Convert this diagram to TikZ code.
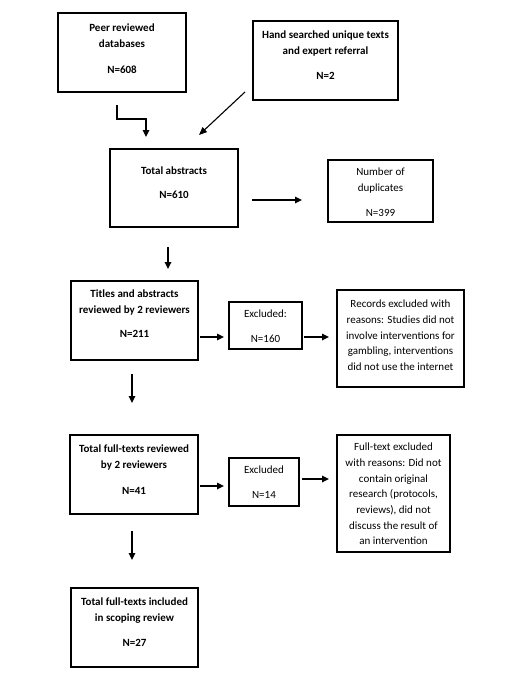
\documentclass[tikz,border=0pt]{standalone}
\usepackage{fontspec}
\setmainfont{Carlito}
\usetikzlibrary{arrows.meta,calc}
\newcommand\boxbody[4]{\parbox[t][#2][t]{#1}{\centering\fontsize{11}{15.7}\selectfont\vspace*{#3}#4}}
\tikzset{
  box/.style={draw=black, line width=1.9pt, inner sep=0pt, outer sep=0pt},
  arr/.style={line width=1.6pt, -{Triangle[length=7pt,width=6.5pt]}},
  arrthin/.style={line width=1.1pt, -{Triangle[length=8pt,width=6.5pt]}},
}
\begin{document}
\begin{tikzpicture}[x=1pt,y=-1pt]
\useasboundingbox (0,0) rectangle (521,677);
\fill[white] (0,0) rectangle (521,677);
% boxes
\node[box] (peer) at (122,52.5) {\boxbody{128pt}{79pt}{11pt}{\bfseries Peer reviewed\\databases\\[10pt]N=608}};
\node[box] (hand) at (325.5,60.5) {\boxbody{145pt}{79pt}{10pt}{\bfseries Hand searched unique texts\\and expert referral\\[9.5pt]N=2}};
\node[box] (tot) at (174,188) {\boxbody{128pt}{78pt}{18pt}{\bfseries Total abstracts\\[8.5pt]N=610}};
\node[box] (dup) at (380.5,191) {\boxbody{105pt}{62pt}{8pt}{Number of\\duplicates\\[9.5pt]N=399}};
\node[box] (ttl) at (134.5,320.5) {\boxbody{127pt}{79pt}{9pt}{\bfseries Titles and abstracts\\reviewed by 2 reviewers\\[8.5pt]N=211}};
\node[box] (exa) at (265.5,325.5) {\boxbody{73pt}{47pt}{8pt}{Excluded:\\[9.5pt]N=160}};
\node[box] (rec) at (400.5,338.5) {\boxbody{127pt}{97pt}{10pt}{Records excluded with\\reasons: Studies did not\\involve interventions for\\gambling, interventions\\did not use the internet}};
\node[box] (ftr) at (134,474.5) {\boxbody{128pt}{79pt}{10pt}{\bfseries Total full-texts reviewed\\by 2 reviewers\\[10pt]N=41}};
\node[box] (exb) at (264,482) {\boxbody{70pt}{48pt}{8pt}{Excluded\\[9.5pt]N=14}};
\node[box] (fte) at (393.5,493.5) {\boxbody{113pt}{117pt}{8pt}{Full-text excluded\\with reasons: Did not\\contain original\\research (protocols,\\reviews), did not\\discuss the result of\\an intervention}};
\node[box] (inc) at (134.5,627.5) {\boxbody{127pt}{79pt}{10pt}{\bfseries Total full-texts included\\in scoping review\\[9.5pt]N=27}};
% connectors
\coordinate (e1) at (117,105);
\coordinate (e2) at (146,119);
\draw[arr, shorten >=12pt] (e1) |- (e2) -- (e2 |- tot.north);
\coordinate (d1) at (245,92);
\coordinate (d2) at (199,135);
\draw[arrthin] (d1) -- (d2);
\coordinate (h1) at (252,200);
\draw[arr, shorten >=26pt] (h1) -- (h1 -| dup.west);
\coordinate (v1) at (168,247);
\draw[arr, shorten >=12pt] (v1) -- (v1 |- ttl.north);
\coordinate (h2) at (200,337);
\draw[arr, shorten >=5pt] (h2) -- (h2 -| exa.west);
\coordinate (h3) at (304,337);
\draw[arr, shorten >=8pt] (h3) -- (h3 -| rec.west);
\coordinate (v2) at (132,374);
\draw[arr, shorten >=32pt] (v2) -- (v2 |- ftr.north);
\coordinate (h4) at (200,486);
\draw[arr, shorten >=5pt] (h4) -- (h4 -| exb.west);
\coordinate (h5) at (302,479);
\draw[arr, shorten >=8pt] (h5) -- (h5 -| fte.west);
\coordinate (v3) at (132,531);
\draw[arr, shorten >=28pt] (v3) -- (v3 |- inc.north);
\end{tikzpicture}
\end{document}
